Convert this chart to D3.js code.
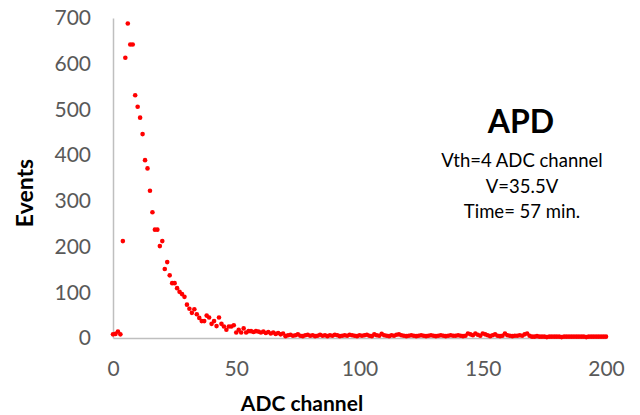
<!DOCTYPE html>
<html>
<head>
<meta charset="utf-8">
<script src="https://cdn.jsdelivr.net/npm/d3@7"></script>
<style>
  html, body { margin: 0; padding: 0; background: #ffffff; }
  svg { display: block; font-family: Lato, "Open Sans", sans-serif; }
</style>
</head>
<body>
<svg id="chart" width="640" height="415"></svg>
<script>
// ---- data ----
const events = [
  8, 9, 14, 8, 212, 613, 688, 642, 642, 531,
  506, 482, 446, 389, 371, 322, 275, 237, 237, 201,
  212, 151, 166, 137, 120, 120, 109, 101, 96, 90,
  73, 64, 55, 63, 52, 44, 37, 37, 49, 45,
  31, 37, 26, 45, 31, 25, 18, 25, 25, 28,
  12, 18, 12, 21, 12, 15, 15, 13, 15, 14,
  12, 14, 11, 13, 10, 12, 9, 11, 8, 10,
  4, 6, 7, 5, 6, 8, 5, 4, 6, 7,
  5, 6, 4, 5, 7, 5, 6, 4, 6, 5,
  7, 6, 4, 5, 6, 5, 7, 6, 5, 4,
  6, 5, 6, 7, 5, 4, 8, 6, 5, 9,
  6, 5, 4, 6, 5, 7, 8, 6, 5, 4,
  5, 6, 5, 4, 5, 6, 5, 4, 5, 6,
  5, 4, 5, 6, 5, 4, 5, 6, 5, 5,
  6, 5, 4, 5, 10, 8, 6, 10, 7, 5,
  10, 8, 6, 4, 6, 8, 5, 4, 5, 10,
  6, 5, 4, 5, 5, 6, 5, 8, 10, 5,
  3, 3, 4, 3, 3, 3, 2, 3, 3, 3,
  3, 3, 2, 3, 3, 3, 3, 3, 3, 3,
  3, 3, 2, 3, 3, 3, 3, 3, 3, 3,
  3
];
const xTicks = [0, 50, 100, 150, 200];
const yTicks = [0, 100, 200, 300, 400, 500, 600, 700];
const xTitle = "ADC channel";
const yTitle = "Events";
const infoTitle = "APD";
const infoLines = ["Vth=4 ADC channel", "V=35.5V", "Time= 57 min."];

const points = events.map((v, i) => ({ ch: i, ev: v }));

// ---- layout ----
const svg = d3.select("#chart");
const x = d3.scaleLinear().domain([0, 200]).range([113, 606]);
const y = d3.scaleLinear().domain([0, 700]).range([338, 18]);
const axisColor = "#bfbfbf";
const labelColor = "#595959";

// y axis
const gy = svg.append("g")
  .attr("transform", `translate(${x(0)},0)`)
  .call(d3.axisLeft(y).tickValues(yTicks).tickSize(0).tickSizeOuter(0).tickPadding(22));
gy.select(".domain").attr("stroke", axisColor).attr("stroke-width", 1.5);
gy.selectAll("text").attr("fill", labelColor).style("font-size", "21px")
  .style("font-family", "Lato, sans-serif");

// x axis
const gx = svg.append("g")
  .attr("transform", `translate(0,${y(0)})`)
  .call(d3.axisBottom(x).tickValues(xTicks).tickSize(0).tickSizeOuter(0).tickPadding(23));
gx.select(".domain").attr("stroke", axisColor).attr("stroke-width", 1.5);
gx.selectAll("text").attr("fill", labelColor).style("font-size", "21px")
  .style("font-family", "Lato, sans-serif");

// points
svg.append("g").selectAll("circle")
  .data(points)
  .join("circle")
  .attr("cx", d => x(d.ch))
  .attr("cy", d => y(d.ev))
  .attr("r", 2.3)
  .attr("fill", "#ff0000");

// axis titles
svg.append("text")
  .attr("x", 302).attr("y", 411)
  .attr("text-anchor", "middle")
  .attr("font-weight", "bold").attr("font-size", "21px")
  .attr("fill", "#000")
  .text(xTitle);

svg.append("text")
  .attr("transform", "translate(33,193) rotate(-90)")
  .attr("text-anchor", "middle")
  .attr("font-weight", "bold").attr("font-size", "23px")
  .attr("fill", "#000")
  .text(yTitle);

// annotation
svg.append("text")
  .attr("x", 521).attr("y", 133)
  .attr("text-anchor", "middle")
  .attr("font-weight", "bold").attr("font-size", "32px")
  .attr("fill", "#000")
  .text(infoTitle);

svg.append("g").selectAll("text")
  .data(infoLines)
  .join("text")
  .attr("x", 522)
  .attr("y", (d, i) => 167 + i * 25.5)
  .attr("text-anchor", "middle")
  .attr("font-size", "18.5px")
  .attr("fill", "#000")
  .text(d => d);
</script>
</body>
</html>
